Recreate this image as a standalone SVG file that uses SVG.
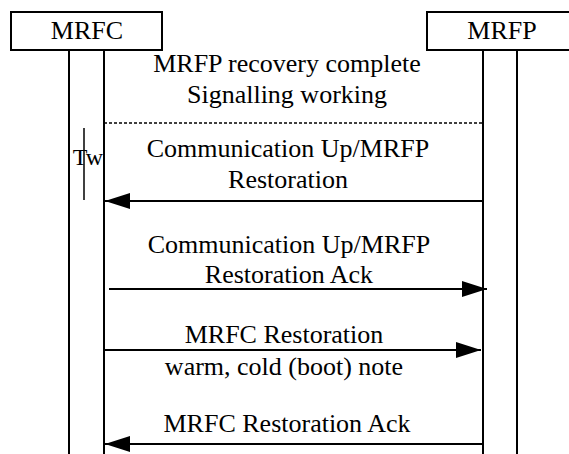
<svg xmlns="http://www.w3.org/2000/svg" width="569" height="454" viewBox="0 0 569 454">
<style>
text{font-family:"Liberation Serif","Times New Roman",Times,serif;fill:#000;text-anchor:middle}
.lbl{font-size:26px}
.box{fill:#fff;stroke:#000;stroke-width:2}
.life{stroke:#000;stroke-width:2;fill:none}
.msg{stroke:#000;stroke-width:2;fill:none}
</style>
<defs>
<marker id="ah" viewBox="0 0 25 16" refX="25" refY="8" markerWidth="25" markerHeight="16" markerUnits="userSpaceOnUse" orient="auto">
<path d="M0,0 L25,8 L0,16 Z" fill="#000"/>
</marker>
</defs>
<rect width="569" height="454" fill="#fff"/>
<g id="MRFC">
<rect class="box" x="11" y="12" width="151" height="38"/>
<text class="lbl" x="87" y="39">MRFC</text>
<line class="life" x1="69" y1="50" x2="69" y2="454"/>
<line class="life" x1="104" y1="50" x2="104" y2="454"/>
</g>
<g id="MRFP">
<rect class="box" x="427" y="12" width="151" height="38"/>
<text class="lbl" x="502" y="39">MRFP</text>
<line class="life" x1="483" y1="50" x2="483" y2="454"/>
<line class="life" x1="517" y1="50" x2="517" y2="454"/>
</g>
<g id="note">
<text class="lbl" x="287" y="72">MRFP recovery complete</text>
<text class="lbl" x="287" y="103">Signalling working</text>
<line x1="104" y1="123" x2="483" y2="123" stroke="#000" stroke-width="1.3" stroke-dasharray="3,2"/>
</g>
<g id="timer">
<line x1="84" y1="128" x2="84" y2="200" stroke="#000" stroke-width="1.5"/>
<text x="88" y="165" font-size="24">Tw</text>
</g>
<g id="connectors">
<line class="msg" x1="483" y1="201" x2="105" y2="201" marker-end="url(#ah)"/>
<line class="msg" x1="109" y1="289" x2="487" y2="289" marker-end="url(#ah)"/>
<line class="msg" x1="104" y1="350" x2="481" y2="350" marker-end="url(#ah)"/>
<line class="msg" x1="483" y1="444" x2="105" y2="444" marker-end="url(#ah)"/>
</g>
<g id="labels">
<text class="lbl" x="288" y="157">Communication Up/MRFP</text>
<text class="lbl" x="288" y="188">Restoration</text>
<text class="lbl" x="289" y="253">Communication Up/MRFP</text>
<text class="lbl" x="289" y="283">Restoration Ack</text>
<text class="lbl" x="284" y="343">MRFC Restoration</text>
<text class="lbl" x="284" y="375">warm, cold (boot) note</text>
<text class="lbl" x="287" y="432">MRFC Restoration Ack</text>
</g>
</svg>
